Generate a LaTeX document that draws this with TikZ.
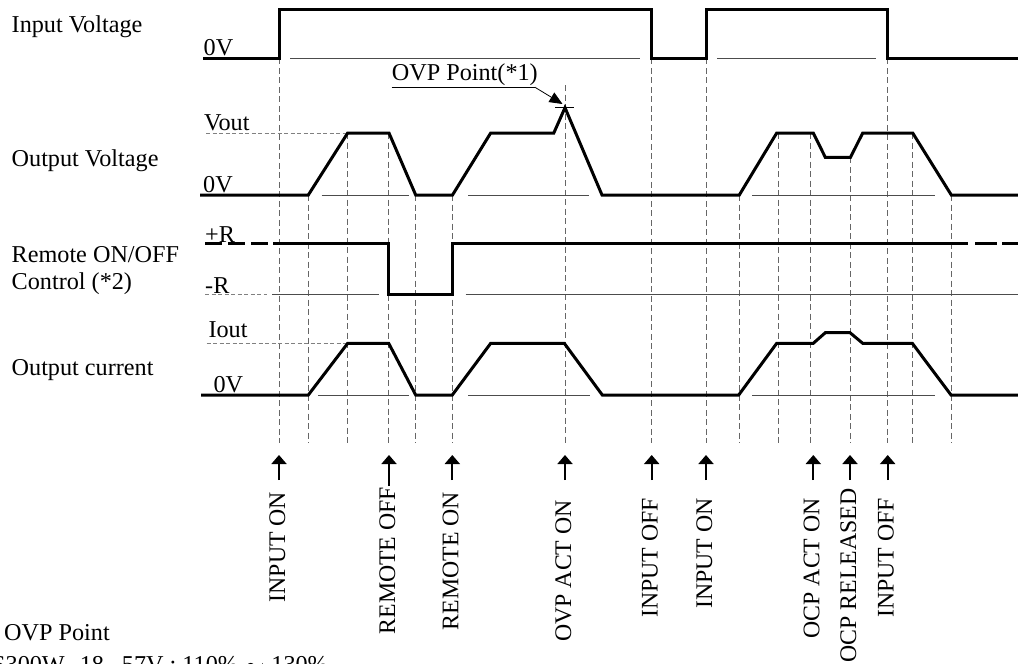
\documentclass[tikz,border=0pt]{standalone}
\usepackage{fontspec}
\setmainfont{Liberation Serif}
\usetikzlibrary{arrows.meta}
\begin{document}
\begin{tikzpicture}[x=1pt,y=-1pt,
  lbl/.style={anchor=base west, inner sep=0pt, font=\fontsize{24.2}{28}\selectfont},
  evt/.style={anchor=base east, rotate=90, inner sep=0pt, font=\fontsize{23.8}{28}\selectfont},
  sig/.style={line width=3pt, line join=miter},
  basel/.style={line width=1pt, black!70},
  guide/.style={line width=0.9pt, black!60, dash pattern=on 6pt off 3.5pt},
  refl/.style={line width=0.9pt, black!50, dash pattern=on 4pt off 2.5pt},
  evarrow/.style={line width=1.8pt, -{Triangle[length=9pt,width=15pt]}},
  ovparrow/.style={line width=0.8pt, -{Triangle[length=13pt,width=11pt]}},
]
\useasboundingbox (0,0) rectangle (1018,664);

% ---------- row labels ----------
\node[lbl] (lInput) at (11.5,32.7) {Input Voltage};
\node[lbl] (lIn0) at (203.5,55.5) {0V};
\node[lbl] (lVout) at (204,130) {Vout};
\node[lbl] (lOutV) at (11.5,166.5) {Output Voltage};
\node[lbl] (lOut0) at (203,192.3) {0V};
\node[lbl] (lPR) at (205,242) {+R};
\node[lbl] (lRem1) at (11.5,262.7) {Remote ON/OFF};
\node[lbl] (lRem2) at (11.5,289.3) {Control (*2)};
\node[lbl] (lMR) at (205,293) {-R};
\node[lbl] (lIout) at (208.3,337.3) {Iout};
\node[lbl] (lOutC) at (11.5,375.7) {Output current};
\node[lbl] (lCur0) at (213.3,392.3) {0V};

% ---------- vertical guides ----------
\foreach \x/\y in {279/58.3, 308.3/195, 347.7/133, 388.3/133, 415.7/195, 452.3/195,
                   565/85, 651.7/58.3, 706/58.3, 739.3/195, 778.7/133, 810.7/133,
                   850/157.3, 887.7/58.3, 912.3/133, 951/195}
  \draw[guide] (\x,\y) -- (\x,443);

% ---------- reference lines ----------
\draw[refl] (206,133) -- (347.7,133);
\draw[refl] (206.7,343.3) -- (347.7,343.3);
\draw[refl] (205,294) -- (267,294);

\draw[basel] (290,58.3) -- (640,58.3);
\draw[basel] (717,58.3) -- (876,58.3);
\draw[basel] (321.7,195) -- (409.3,195);
\draw[basel] (468,195) -- (589.3,195);
\draw[basel] (752,195) -- (935.3,195);
\draw[basel] (272,294) -- (379,294);
\draw[basel] (465.7,294) -- (1018,294);
\draw[basel] (318.3,395) -- (409.3,395);
\draw[basel] (468.3,395) -- (590,395);
\draw[basel] (752.3,395) -- (935,395);

% ---------- signals ----------
% input voltage
\draw[sig] (203,58.3) -- (279,58.3) -- (279,9) -- (651.7,9) -- (651.7,58.3)
  -- (706,58.3) -- (706,9) -- (887.7,9) -- (887.7,58.3) -- (1018,58.3);
% output voltage
\draw[sig] (200,195) -- (308.3,195) -- (347.7,133) -- (389,133) -- (415.7,195)
  -- (452.5,195) -- (490.7,133) -- (553.8,133) -- (565,107.7) -- (602,195)
  -- (739.3,195) -- (776.7,133) -- (813.3,133) -- (825.3,157.3) -- (850.5,157.3)
  -- (862.7,133) -- (912.7,133) -- (951.3,195) -- (1018,195);
% remote on/off
\draw[sig, dash pattern=on 17pt off 6pt] (205,243.3) -- (273,243.3);
\draw[sig] (273,243.3) -- (388.3,243.3) -- (388.3,294) -- (452.3,294)
  -- (452.3,243.3) -- (968.3,243.3);
\draw[sig, dash pattern=on 22pt off 5pt] (975,243.3) -- (1018,243.3);
% output current
\draw[sig] (201,395) -- (308.3,395) -- (347.7,343.3) -- (388.7,343.3) -- (415.7,395)
  -- (452.3,395) -- (490.7,343.3) -- (564.3,343.3) -- (602.3,395)
  -- (738.7,395) -- (776.7,343.3) -- (813.3,343.3) -- (825.3,332.7) -- (850,332.7)
  -- (862.7,343.3) -- (912.3,343.3) -- (951,395) -- (1018,395);

% ---------- OVP point annotation ----------
\node[lbl] (ovplbl) at (391.7,80.7) {OVP Point(*1)};
\coordinate (ovpA) at (391.7,87.3);
\coordinate (ovpB) at (535,87.3);
\coordinate (ovpTip) at (562.5,104);
\draw[line width=0.8pt] (ovpA) -- (ovpB);
\draw[ovparrow] (ovpB) -- (ovpTip);
\coordinate (tickL) at (555,107.7);
\coordinate (tickR) at (574.3,107.7);
\draw[line width=0.8pt] (tickL) -- (tickR);

% ---------- event markers ----------
\foreach \n/\x/\ys/\yt/\t in {e1/279/480/491.7/INPUT ON,
                              e2/389/486/486.7/REMOTE OFF,
                              e3/452.3/480/491.7/REMOTE ON,
                              e4/565/480/500/OVP ACT ON,
                              e5/651.7/480/498/INPUT OFF,
                              e6/706/480/498/INPUT ON,
                              e7/813.3/480/498/OCP ACT ON,
                              e8/850/480/488.3/OCP RELEASED,
                              e9/887.7/480/498/INPUT OFF} {
  \node[evt] (lab\n) at (\x+6,\yt) {\t};
  \coordinate (tail\n) at (\x,\ys);
  \coordinate (tip\n) at (\x,455);
  \draw[evarrow] (tail\n) -- (tip\n);
}

% ---------- footnote (cut by the lower edge, as in the reference) ----------
\node[lbl] (fn1) at (4,640.7) {OVP Point};
\node[lbl] (fn2) at (-8,672) {S300W\hspace{15pt}18\hspace{18pt}57V : 110\%\hspace{7pt}$\sim$\hspace{7pt}130\%};
\end{tikzpicture}
\end{document}
